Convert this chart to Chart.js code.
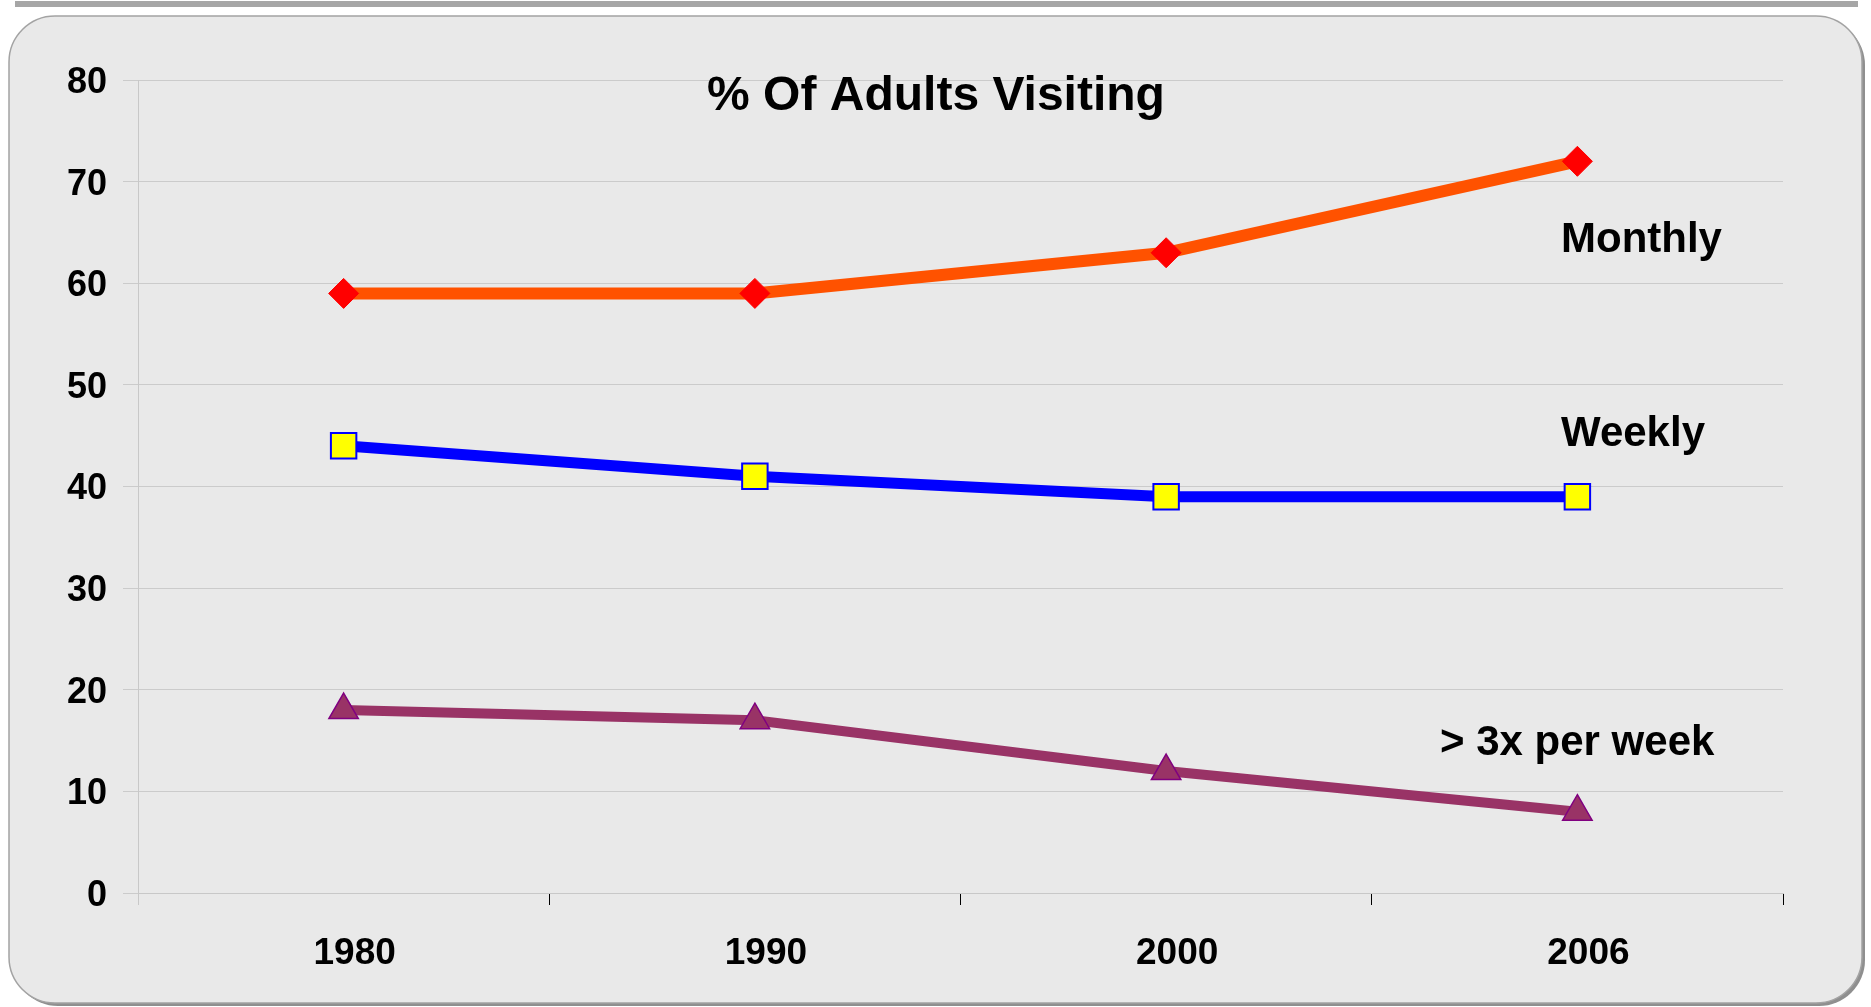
<!DOCTYPE html>
<html>
<head>
<meta charset="utf-8">
<script src="https://cdn.jsdelivr.net/npm/chart.js@4.4.1/dist/chart.umd.min.js"></script>
<style>
  html, body { margin: 0; padding: 0; background: #ffffff; }
  #wrap { width: 1871px; height: 1007px; position: relative; }
</style>
</head>
<body>
<div id="wrap"><canvas id="myChart"></canvas></div>
<script>
// data
const years = ["1980", "1990", "2000", "2006"];
const monthly = [59, 59, 63, 72];
const weekly = [44, 41, 39, 39];
const threePlus = [18, 17, 12, 8];
const yTicks = [0, 10, 20, 30, 40, 50, 60, 70, 80];

const chartTitle = "% Of Adults Visiting";
const seriesNames = ["Monthly", "Weekly", "> 3x per week"];

const FONT = "'Liberation Sans', Arial, sans-serif";

// rounded grey panel + bar on top
const panel = {
    id: "panel",
    beforeDraw(chart) {
        const c = chart.ctx;
        c.save();
        c.fillStyle = "#a6a6a6";
        c.fillRect(15, 1, 1843, 6);

        const x = 9, y = 16, w = 1853, h = 987, r = 46;
        const path = () => {
            c.beginPath();
            c.moveTo(x + r, y);
            c.lineTo(x + w - r, y);
            c.arcTo(x + w, y, x + w, y + r, r);
            c.lineTo(x + w, y + h - r);
            c.arcTo(x + w, y + h, x + w - r, y + h, r);
            c.lineTo(x + r, y + h);
            c.arcTo(x, y + h, x, y + h - r, r);
            c.lineTo(x, y + r);
            c.arcTo(x, y, x + r, y, r);
            c.closePath();
        };
        // shadow right / bottom
        c.save();
        c.translate(3, 3);
        path();
        c.fillStyle = "#8f8f8f";
        c.fill();
        c.restore();
        path();
        c.fillStyle = "#e9e9e9";
        c.fill();
        c.lineWidth = 1.5;
        c.strokeStyle = "#a3a3a3";
        c.stroke();
        c.restore();
    },
    afterDatasetsDraw(chart) {
        const c = chart.ctx;
        c.save();
        c.fillStyle = "#000000";
        c.textBaseline = "alphabetic";
        c.font = "bold 48px " + FONT;
        c.textAlign = "center";
        c.fillText(chartTitle, 936, 110);
        c.font = "bold 42px " + FONT;
        c.textAlign = "left";
        c.fillText(seriesNames[0], 1561, 252);
        c.fillText(seriesNames[1], 1561, 446);
        c.fillText(seriesNames[2], 1440, 755);
        c.restore();
    }
};

const ctx = document.getElementById("myChart");
new Chart(ctx, {
    type: "line",
    data: {
        labels: years,
        datasets: [
            {
                label: seriesNames[0],
                data: monthly,
                borderColor: "#ff5200",
                borderWidth: 12,
                pointStyle: "rectRot",
                pointRadius: 15,
                pointBackgroundColor: "#ff0000",
                pointBorderColor: "#ff0000",
                pointBorderWidth: 1,
            },
            {
                label: seriesNames[1],
                data: weekly,
                borderColor: "#0000ff",
                borderWidth: 11,
                pointStyle: "rect",
                pointRadius: 18,
                pointBackgroundColor: "#ffff00",
                pointBorderColor: "#0000ff",
                pointBorderWidth: 2,
            },
            {
                label: seriesNames[2],
                data: threePlus,
                borderColor: "#993366",
                borderWidth: 10,
                pointStyle: "triangle",
                pointRadius: 17,
                pointBackgroundColor: "#993366",
                pointBorderColor: "#800080",
                pointBorderWidth: 1.5,
            },
        ],
    },
    options: {
        responsive: true,
        maintainAspectRatio: false,
        animation: false,
        tension: 0,
        layout: { padding: { left: 0, right: 88, top: 80, bottom: 0 } },
        plugins: {
            legend: { display: false },
            tooltip: { enabled: false },
        },
        scales: {
            x: {
                offset: true,
                afterFit: (s) => { s.height = 114; },
                grid: {
                    offset: true,
                    drawOnChartArea: false,
                    tickLength: 12,
                    color: (c) => (c.index === 0 ? "#c8c8c8" : "#000000"),
                },
                border: { color: "#c8c8c8" },
                ticks: {
                    color: "#000000",
                    font: { family: FONT, size: 37, weight: "bold" },
                    padding: 27,
                    labelOffset: 11,
                },
            },
            y: {
                min: 0,
                max: 80,
                afterFit: (s) => { s.width = 138; },
                afterBuildTicks: (s) => { s.ticks = yTicks.map((v) => ({ value: v })); },
                grid: { color: "#cbcbcb", tickLength: 15 },
                border: { color: "#c8c8c8" },
                ticks: {
                    color: "#000000",
                    font: { family: FONT, size: 36, weight: "bold" },
                    padding: 16,
                    labelOffset: 3,
                },
            },
        },
    },
    plugins: [panel],
});
</script>
</body>
</html>
